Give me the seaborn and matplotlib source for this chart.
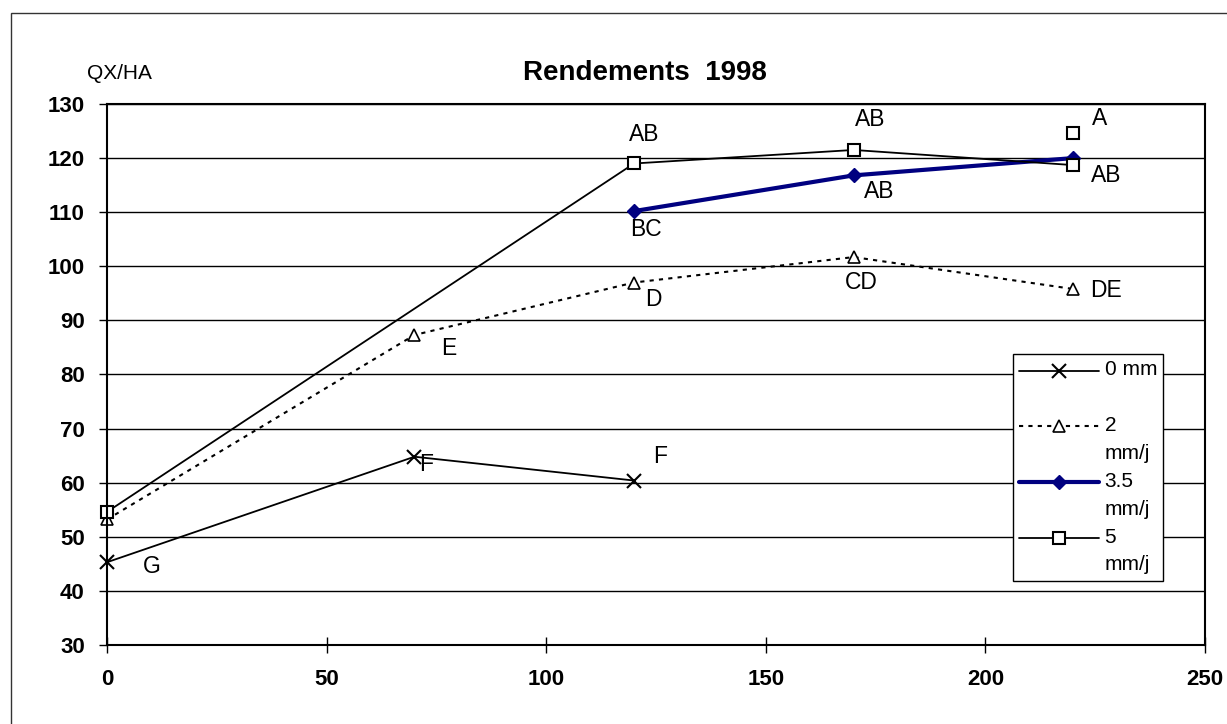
import matplotlib
matplotlib.use('Agg')
import matplotlib.pyplot as plt
import seaborn as sns
from matplotlib.legend_handler import HandlerLine2D
from matplotlib.patches import Rectangle

# valeurs (QX/HA)
x_0mm = [0, 70, 120]
y_0mm = [45.3, 64.8, 60.4]
lettres_0mm = ['G', 'F', 'F']

x_2mm = [0, 70, 120, 170, 220]
y_2mm = [53.2, 87.3, 97.0, 101.7, 95.8]
lettres_2mm = ['', 'E', 'D', 'CD', 'DE']

x_35mm = [120, 170, 220]
y_35mm = [110.2, 116.8, 120.0]
lettres_35mm = ['BC', 'AB', '']

x_5mm = [0, 120, 170, 220]
y_5mm = [54.6, 119.0, 121.5, 118.7]
lettres_5mm = ['', 'AB', 'AB', 'AB']

# point isolé à 220
x_isole = [220]
y_isole = [124.6]
lettres_isole = ['A']

legende = ['0 mm\n ', '2\nmm/j', '3.5\nmm/j', '5\nmm/j']
x_ticks = [0, 50, 100, 150, 200, 250]
y_ticks = [30, 40, 50, 60, 70, 80, 90, 100, 110, 120, 130]

# décalage des lettres (pixels : droite, bas)
dec_0mm = [(45, 4), (12, 8), (26, -24)]
dec_2mm = [None, (34, 14), (19, 17), (8, 25), (33, 1)]
dec_35mm = [(12, 18), (26, 16), None]
dec_5mm = [None, (10, -29), (17, -30), (33, 10)]
dec_isole = [(26, -15)]


class HandlerHaut(HandlerLine2D):
    """remonte le symbole de légende au niveau de la première ligne"""

    def __init__(self, decal, **kw):
        super().__init__(**kw)
        self.decal = decal

    def create_artists(self, legend, orig_handle, xdescent, ydescent, width, height, fontsize, trans):
        return super().create_artists(legend, orig_handle, xdescent, ydescent - 2 * self.decal,
                                      width, height, fontsize, trans)


sns.set_style('white')
plt.rcParams['font.family'] = ['Liberation Sans', 'DejaVu Sans']
plt.rcParams['text.color'] = 'black'
plt.rcParams['xtick.color'] = 'black'
plt.rcParams['ytick.color'] = 'black'
plt.rcParams['axes.labelcolor'] = 'black'

fig = plt.figure(figsize=(12.27, 7.24), dpi=100)
ax = fig.add_axes([0.0872, 0.1091, 0.8949, 0.7473])

sns.lineplot(x=x_0mm, y=y_0mm, ax=ax, color='black', lw=1.3, marker='x', markersize=10,
             markeredgewidth=1.5, markeredgecolor='black', clip_on=False)
sns.lineplot(x=x_2mm, y=y_2mm, ax=ax, color='black', lw=1.5, linestyle=(0, (2, 2.5)), marker='^',
             markersize=8, markeredgewidth=1.2, markeredgecolor='black', markerfacecolor='white',
             clip_on=False)
sns.lineplot(x=x_35mm, y=y_35mm, ax=ax, color='#000080', lw=3, marker='D', markersize=7,
             markeredgewidth=1, markeredgecolor='#000080', markerfacecolor='#000080', clip_on=False)
sns.lineplot(x=x_5mm, y=y_5mm, ax=ax, color='black', lw=1.3, marker='s', markersize=9,
             markeredgewidth=1.5, markeredgecolor='black', markerfacecolor='white', clip_on=False)
ax.plot(x_isole, y_isole, ls='none', marker='s', markersize=9, markeredgewidth=1.5,
        markeredgecolor='black', markerfacecolor='white', clip_on=False)

# lettres de significativité
for xs, ys, lettres, decs in [(x_0mm, y_0mm, lettres_0mm, dec_0mm),
                              (x_2mm, y_2mm, lettres_2mm, dec_2mm),
                              (x_35mm, y_35mm, lettres_35mm, dec_35mm),
                              (x_5mm, y_5mm, lettres_5mm, dec_5mm),
                              (x_isole, y_isole, lettres_isole, dec_isole)]:
    for x, y, txt, d in zip(xs, ys, lettres, decs):
        if txt:
            ax.annotate(txt, (x, y), xytext=(d[0], -d[1]), textcoords='offset pixels',
                        ha='center', va='center', fontsize=16.5, color='black')

ax.set_xlim(0, 250)
ax.set_ylim(30, 130)
ax.set_xticks(x_ticks)
ax.set_yticks(y_ticks)
ax.set_xlabel('')
ax.set_ylabel('')
for lab in ax.get_xticklabels() + ax.get_yticklabels():
    lab.set_fontweight('bold')
    lab.set_fontsize(16)
ax.tick_params(axis='y', direction='out', length=6, width=1, pad=10, left=True, color='black')
ax.tick_params(axis='x', direction='inout', length=12, width=1, pad=11, bottom=True, color='black')
ax.yaxis.grid(True, color='black', lw=1)
ax.set_axisbelow(True)
for sp in ax.spines.values():
    sp.set_visible(True)
    sp.set_color('black')
    sp.set_linewidth(1.5)

# légende
lignes = ax.get_lines()[:4]
hmap = {l: HandlerHaut(9.5) for l in lignes}
leg = ax.legend(lignes, legende, loc='upper left', bbox_to_anchor=(0.825, 0.538), fontsize=15,
                frameon=True, fancybox=False, framealpha=1, edgecolor='black', borderpad=0.3,
                labelspacing=0.44, handlelength=3.85, handletextpad=0.25, borderaxespad=0,
                handler_map=hmap)
leg.get_frame().set_linewidth(1)
for t in leg.get_texts():
    t.set_linespacing(1.58)
    t.set_color('black')

fig.text(0.526, 0.899, 'Rendements  1998', ha='center', va='center', fontsize=20, fontweight='bold')
fig.text(0.097, 0.899, 'QX/HA', ha='center', va='center', fontsize=15)

# cadre extérieur
fig.patches.append(Rectangle((11 / 1227, -0.05), 1.1, 1 - 13 / 724 + 0.05, transform=fig.transFigure,
                             fill=False, edgecolor='#333333', lw=1))

plt.savefig('out.png', dpi=100)
plt.close()
